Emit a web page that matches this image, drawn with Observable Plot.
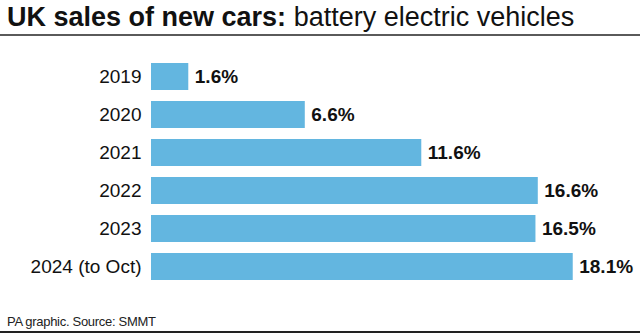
<!DOCTYPE html>
<html><head><meta charset="utf-8">
<script src="https://cdn.jsdelivr.net/npm/d3@7"></script>
<script src="https://cdn.jsdelivr.net/npm/@observablehq/plot@0.6"></script>
<style>
body{margin:0;background:#fff;}
#wrap{position:relative;width:640px;height:335px;overflow:hidden;font-family:"Liberation Sans",Arial,sans-serif;color:#111;background:#fff;}
#title{position:absolute;left:7px;top:4px;font-size:27px;line-height:1;white-space:nowrap;}
#title b{font-weight:bold;}
#rule1{position:absolute;left:0;top:34px;width:640px;height:2px;background:#5a5a5a;}
#chart{position:absolute;left:0;top:40px;}
#footer{position:absolute;left:7px;top:315px;font-size:13px;line-height:1;letter-spacing:-0.3px;white-space:nowrap;color:#222;}
#rule2{position:absolute;left:0;top:331px;width:640px;height:2px;background:#222;}
</style></head>
<body>
<div id="wrap">
  <div id="title"><b>UK sales of new cars:</b> battery electric vehicles</div>
  <div id="rule1"></div>
  <div id="chart"></div>
  <div id="footer">PA graphic. Source: SMMT</div>
  <div id="rule2"></div>
</div>
<script>
const years = ["2019", "2020", "2021", "2022", "2023", "2024 (to Oct)"];
const shares = [1.6, 6.6, 11.6, 16.6, 16.5, 18.1];
const labels = ["1.6%", "6.6%", "11.6%", "16.6%", "16.5%", "18.1%"];

const data = years.map((y, i) => ({year: y, share: shares[i], label: labels[i]}));
const font = '"Liberation Sans", Arial, sans-serif';

const chart = Plot.plot({
  width: 640,
  height: 260,
  marginLeft: 151,
  marginRight: 23,
  marginTop: 10.5,
  marginBottom: 7.6,
  x: {domain: [0, 20], axis: null},
  y: {domain: years, padding: 0.3, axis: null},
  style: {fontFamily: font, fontSize: "19px", color: "#111", background: "transparent"},
  marks: [
    Plot.barX(data, {x: "share", y: "year", fill: "#63b6e0"}),
    Plot.text(data, {x: "share", y: "year", text: "label", textAnchor: "start", dx: 6,
      fontWeight: "bold", fontSize: 19, fill: "#111"}),
    Plot.axisY({tickSize: 0, tickPadding: 10, fontSize: 19, label: null, fill: "#111"})
  ]
});
document.getElementById("chart").appendChild(chart);
</script>
</body></html>
